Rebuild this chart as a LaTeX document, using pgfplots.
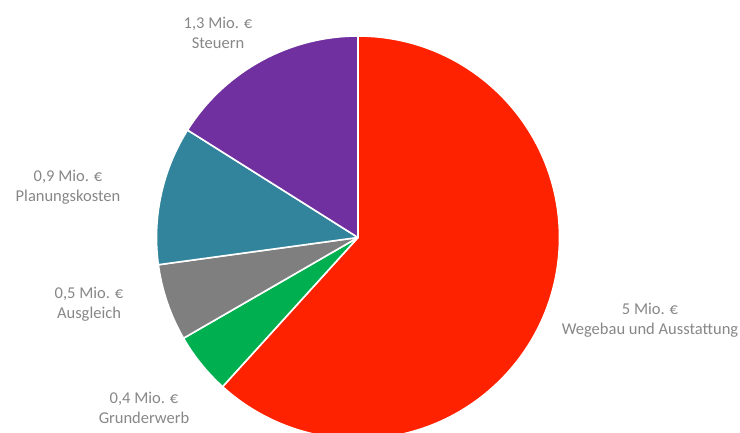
\documentclass[border=0pt]{standalone}
\usepackage{pgfplots}
\pgfplotsset{compat=1.18}
\usepackage{pgfplotstable}
\usepackage{fontspec}
\setmainfont{Carlito}
\definecolor{cRed}{RGB}{255,34,0}
\definecolor{cGreen}{RGB}{0,176,80}
\definecolor{cGray}{RGB}{127,127,127}
\definecolor{cTeal}{RGB}{49,132,155}
\definecolor{cPurple}{RGB}{112,48,160}
\definecolor{labelgray}{RGB}{135,135,135}
\pgfplotstableread{
value color
5.0 cRed
0.4 cGreen
0.5 cGray
0.9 cTeal
1.3 cPurple
}\piedata
\begin{document}
\begin{tikzpicture}
\begin{axis}[name=ax, scale only axis, width=740pt, height=433pt,
  xmin=0, xmax=740, ymin=0, ymax=433, hide axis, clip=true]
\pgfplotstablegetrowsof{\piedata}
\pgfmathtruncatemacro\nrows{\pgfplotsretval-1}
\def\total{0}
\pgfplotsforeachungrouped \i in {0,...,\nrows}{%
  \pgfplotstablegetelem{\i}{value}\of\piedata
  \pgfmathsetmacro\total{\total+\pgfplotsretval}%
}
\def\cum{0}
\pgfplotsforeachungrouped \i in {0,...,\nrows}{%
  \pgfplotstablegetelem{\i}{value}\of\piedata \let\pv\pgfplotsretval
  \pgfplotstablegetelem{\i}{color}\of\piedata \let\pc\pgfplotsretval
  \pgfmathsetmacro\sa{90-\cum/\total*360}%
  \pgfmathsetmacro\cum{\cum+\pv}%
  \pgfmathsetmacro\ea{90-\cum/\total*360}%
  \edef\slice{\noexpand\fill[\pc, draw=white, line width=1.6pt, line join=round]
    (axis cs:358,195.5) -- ++(\sa:201.5pt) arc[start angle=\sa, end angle=\ea, radius=201.5pt] -- cycle;}%
  \slice
}
\tikzset{lab/.style={font=\fontsize{16.5}{20}\selectfont, text=labelgray, align=center, inner sep=0pt}}
\node[lab] at (axis cs:218,400) {1,3 Mio. €\\Steuern};
\node[lab] at (axis cs:68,246) {0,9 Mio. €\\Planungskosten};
\node[lab] at (axis cs:89,129) {0,5 Mio. €\\Ausgleich};
\node[lab] at (axis cs:144,25) {0,4 Mio. €\\Grunderwerb};
\node[lab] at (axis cs:650,113) {5 Mio. €\\Wegebau und Ausstattung};
\end{axis}
\pgfresetboundingbox
\useasboundingbox (ax.south west) rectangle (ax.north east);
\end{tikzpicture}
\end{document}
